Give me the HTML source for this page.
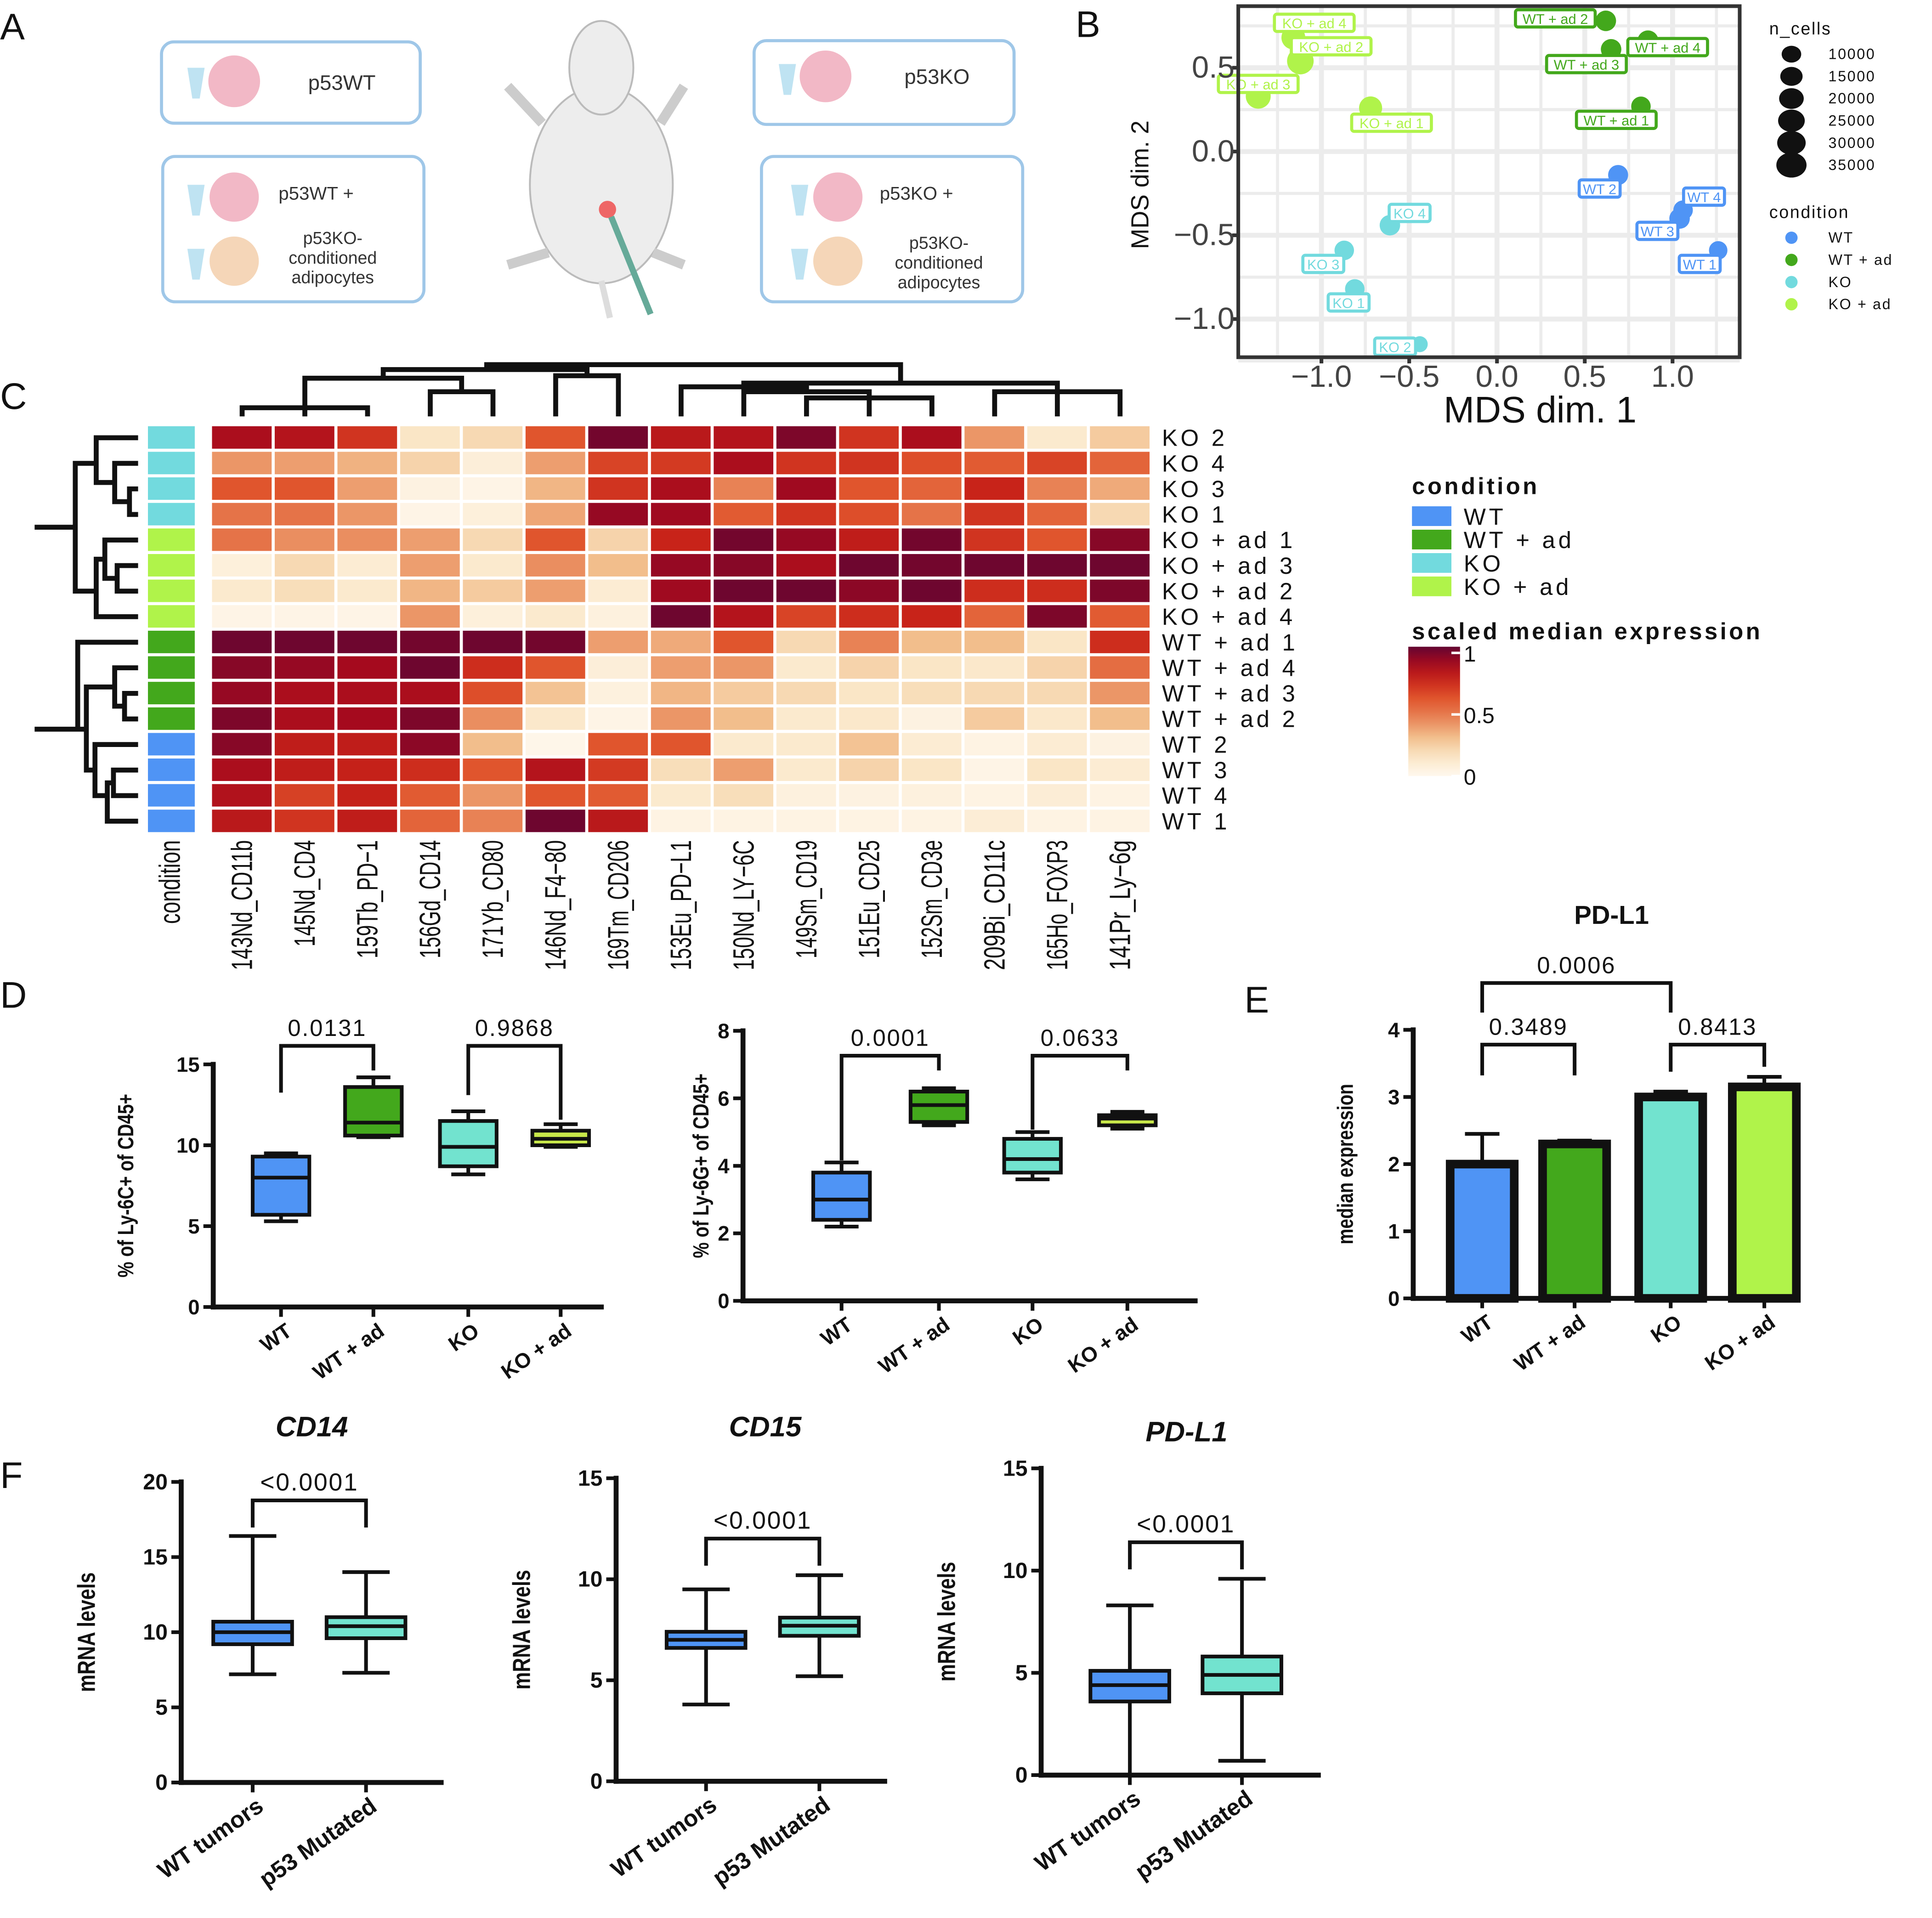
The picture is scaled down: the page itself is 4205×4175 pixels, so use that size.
<!DOCTYPE html>
<html><head><meta charset="utf-8">
<style>
html,body{margin:0;padding:0;background:#fff;}
svg{display:block;font-family:"Liberation Sans",sans-serif;}
</style></head>
<body>
<svg id="fig" width="4205" height="4175" viewBox="0 0 1568 1557" xmlns="http://www.w3.org/2000/svg">
<rect width="1568" height="1557" fill="#fff"/>
<g font-size="30" fill="#111">
<text x="0" y="32">A</text><text x="873" y="30">B</text><text x="0" y="332">C</text>
<text x="0" y="818">D</text><text x="1010" y="822">E</text><text x="0" y="1208">F</text>
</g>
<g font-size="17" fill="#333">
<rect x="131" y="34" width="210" height="66" rx="10" fill="none" stroke="#9fc7e8" stroke-width="2.5"/>
<rect x="612" y="33" width="211" height="68" rx="10" fill="none" stroke="#9fc7e8" stroke-width="2.5"/>
<rect x="132" y="127" width="212" height="118" rx="10" fill="none" stroke="#9fc7e8" stroke-width="2.5"/>
<rect x="618" y="127" width="212" height="118" rx="10" fill="none" stroke="#9fc7e8" stroke-width="2.5"/>
<circle cx="190" cy="66" r="21" fill="#f2b8c6"/><circle cx="670" cy="62" r="21" fill="#f2b8c6"/>
<circle cx="190" cy="160" r="20" fill="#f2b8c6"/><circle cx="190" cy="212" r="20" fill="#f5d6b8"/>
<circle cx="680" cy="160" r="20" fill="#f2b8c6"/><circle cx="680" cy="212" r="20" fill="#f5d6b8"/>
<path d="M152 55 l14 0 l-4 25 l-6 0z M632 52 l14 0 l-4 25 l-6 0z M152 150 l14 0 l-4 25 l-6 0z M152 202 l14 0 l-4 25 l-6 0z M642 150 l14 0 l-4 25 l-6 0z M642 202 l14 0 l-4 25 l-6 0z" fill="#bfe3f2"/>
<text x="250" y="73">p53WT</text><text x="734" y="68">p53KO</text>
<text x="226" y="162" font-size="15">p53WT  +</text>
<text x="270" y="198" font-size="14" text-anchor="middle">p53KO-</text>
<text x="270" y="214" font-size="14" text-anchor="middle">conditioned</text>
<text x="270" y="230" font-size="14" text-anchor="middle">adipocytes</text>
<text x="714" y="162" font-size="15">p53KO  +</text>
<text x="762" y="202" font-size="14" text-anchor="middle">p53KO-</text>
<text x="762" y="218" font-size="14" text-anchor="middle">conditioned</text>
<text x="762" y="234" font-size="14" text-anchor="middle">adipocytes</text>
<g fill="#ededed" stroke="#bbb" stroke-width="1.5">
<ellipse cx="488" cy="150" rx="58" ry="80"/>
<ellipse cx="488" cy="55" rx="26" ry="38"/>
<path d="M440 100 L412 70 M536 100 L555 70 M445 205 L412 215 M530 205 L555 215" stroke="#ccc" stroke-width="8"/>
<path d="M488 228 L495 258" stroke="#ddd" stroke-width="5"/>
<circle cx="493" cy="170" r="7" fill="#e66" stroke="none"/>
<path d="M496 176 L528 255" stroke="#6a9" stroke-width="5"/>
</g>
</g>
<g id="mds"></g>
<g id="heat"></g>
<g id="boxes"></g>
</svg>
<script>
const NS="http://www.w3.org/2000/svg";
function mk(parent,tag,attrs,text){const e=document.createElementNS(NS,tag);for(const k in attrs)e.setAttribute(k,attrs[k]);if(text!==undefined)e.textContent=text;parent.appendChild(e);return e;}
const COND_COLORS={"WT":"#4f94f5","WT + ad":"#43a81c","KO":"#72dade","KO + ad":"#b0f34a"};

/* ---------- Panel B: MDS ---------- */
const mdsLabels=["KO + ad 4","KO + ad 2","KO + ad 3","KO + ad 1","WT + ad 2","WT + ad 4","WT + ad 3","WT + ad 1","WT 2","WT 4","WT 3","WT 1","KO 4","KO 3","KO 1","KO 2"];
const mdsCond=["KO + ad","KO + ad","KO + ad","KO + ad","WT + ad","WT + ad","WT + ad","WT + ad","WT","WT","WT","WT","KO","KO","KO","KO"];
const mdsX=[-1.16,-1.12,-1.36,-0.72,0.62,0.86,0.65,0.82,0.69,1.06,1.04,1.26,-0.61,-0.87,-0.81,-0.44];
const mdsY=[0.68,0.54,0.33,0.26,0.78,0.66,0.61,0.27,-0.14,-0.35,-0.40,-0.59,-0.44,-0.59,-0.82,-1.15];
const mdsCells=[22000,30000,25000,20000,14000,15000,14000,12000,13000,12000,14000,10000,14000,12000,12000,6000];
const mdsXTicks=[-1.0,-0.5,0.0,0.5,1.0];
const mdsYTicks=[0.5,0.0,-0.5,-1.0];
(function(){
 const g=document.getElementById('mds');
 const L=1005,R=1412,T=5,B=290;
 const sx=v=>1215+v*142.5, sy=v=>123-v*136;
 for(let v=-1.25;v<=1.3;v+=0.25){const x=sx(v);const l=mk(g,'line',{x1:x,x2:x,y1:T,y2:B,stroke:'#ececec','stroke-width':Math.abs((v*2)%1)<1e-6?4:2.5});}
 for(let v=-1.25;v<=0.8;v+=0.25){const y=sy(v);const l=mk(g,'line',{x1:L,x2:R,y1:y,y2:y,stroke:'#ececec','stroke-width':Math.abs((v*2)%1)<1e-6?4:2.5});}
 const ldx=[17,25,0,17,-41,16,-20,-20,-15,17,-18,-15,16,-17,-5,-20];
 const ldy=[-12,-12,-10,12,-2,5,12,11,11,-11,10,11,-10,11,11,2];
 mdsX.forEach((xv,i)=>{
  const c=COND_COLORS[mdsCond[i]];const x=sx(xv),y=sy(mdsY[i]);
  const r=3+Math.sqrt(mdsCells[i])*0.045;
  const p=mk(g,'circle',{cx:x,cy:y,r:r,fill:c});
  
  const lx=x+ldx[i],ly=y+ldy[i];const w=mdsLabels[i].length*6.3+8;
  const b=mk(g,'rect',{x:lx-w/2,y:ly-7,width:w,height:14,rx:2,fill:'#fff',stroke:c,'stroke-width':2.5});
  
  const t=mk(g,'text',{x:lx,y:ly+4.5,'font-size':11.5,fill:c,'text-anchor':'middle'},mdsLabels[i]);
  
 });
 mk(g,'rect',{x:L,y:T,width:R-L,height:B-T,fill:'none',stroke:'#333','stroke-width':3});
 mdsXTicks.forEach(v=>{mk(g,'line',{x1:sx(v),x2:sx(v),y1:B,y2:B+5,stroke:'#333','stroke-width':3});
  const t=mk(g,'text',{x:sx(v),y:B+24,'font-size':25,fill:'#444','text-anchor':'middle'},v.toFixed(1).replace('-','\u2212'));});
 mdsYTicks.forEach(v=>{mk(g,'line',{x1:L-5,x2:L,y1:sy(v),y2:sy(v),stroke:'#333','stroke-width':3});
  const t=mk(g,'text',{x:L-3,y:sy(v)+8,'font-size':25,fill:'#444','text-anchor':'end'},v.toFixed(1).replace('-','\u2212'));});
 let t=mk(g,'text',{x:1250,y:343,'font-size':30,fill:'#111','text-anchor':'middle'},'MDS dim. 1');
 t=mk(g,'text',{x:0,y:0,'font-size':20,fill:'#111','text-anchor':'middle',transform:'translate(932,150) rotate(-90)'},'MDS dim. 2');
 t=mk(g,'text',{x:1436,y:28,'font-size':14,fill:'#111','letter-spacing':'1'},'n_cells');
 const sizes=[10000,15000,20000,25000,30000,35000];
 sizes.forEach((s,i)=>{const y=44+i*18;mk(g,'ellipse',{cx:1454,cy:y,rx:3+Math.sqrt(s)*0.045*1.1,ry:3+Math.sqrt(s)*0.045*0.85,fill:'#111'});
  const tt=mk(g,'text',{x:1484,y:y+4,'font-size':12,fill:'#111','letter-spacing':'1'},String(s));});
 t=mk(g,'text',{x:1436,y:177,'font-size':14,fill:'#111','letter-spacing':'1'},'condition');
 Object.keys(COND_COLORS).forEach((k,i)=>{const y=193+i*18;mk(g,'circle',{cx:1454,cy:y,r:5,fill:COND_COLORS[k]});
  const tt=mk(g,'text',{x:1484,y:y+4,'font-size':12,fill:'#111','letter-spacing':'1'},k);});
})();

/* ---------- Panel C: heatmap ---------- */
const hmRows=["KO 2","KO 4","KO 3","KO 1","KO + ad 1","KO + ad 3","KO + ad 2","KO + ad 4","WT + ad 1","WT + ad 4","WT + ad 3","WT + ad 2","WT 2","WT 3","WT 4","WT 1"];
const hmRowCond=["KO","KO","KO","KO","KO + ad","KO + ad","KO + ad","KO + ad","WT + ad","WT + ad","WT + ad","WT + ad","WT","WT","WT","WT"];
const hmCols=["143Nd_CD11b","145Nd_CD4","159Tb_PD-1","156Gd_CD14","171Yb_CD80","146Nd_F4-80","169Tm_CD206","153Eu_PD-L1","150Nd_LY-6C","149Sm_CD19","151Eu_CD25","152Sm_CD3e","209Bi_CD11c","165Ho_FOXP3","141Pr_Ly-6g"];
const hmValues=[
[.85,.82,.7,.15,.2,.6,.97,.8,.82,.95,.7,.85,.4,.12,.25],
[.4,.38,.33,.22,.08,.38,.65,.68,.85,.7,.7,.62,.58,.65,.55],
[.6,.6,.38,.05,.03,.32,.7,.85,.45,.88,.6,.55,.75,.45,.35],
[.5,.5,.4,.03,.07,.36,.9,.88,.58,.7,.62,.5,.7,.55,.2],
[.5,.42,.42,.38,.2,.6,.22,.75,.97,.9,.78,.97,.7,.6,.93],
[.07,.2,.1,.38,.12,.42,.3,.9,.93,.85,.98,.97,.98,.98,.98],
[.12,.18,.12,.32,.25,.38,.1,.88,.98,.98,.92,.98,.72,.72,.95],
[.03,.03,.03,.4,.07,.12,.06,.98,.82,.65,.72,.75,.55,.95,.58],
[.98,.98,.98,.97,.98,.97,.38,.35,.6,.2,.45,.3,.3,.15,.72],
[.93,.9,.87,.98,.72,.6,.08,.38,.4,.12,.22,.15,.13,.22,.52],
[.9,.85,.85,.85,.62,.28,.06,.32,.25,.2,.15,.18,.2,.2,.4],
[.95,.85,.87,.95,.42,.13,.03,.4,.3,.12,.13,.05,.25,.13,.3],
[.93,.78,.78,.92,.3,.02,.6,.6,.12,.12,.28,.1,.04,.1,.05],
[.85,.78,.76,.72,.6,.82,.68,.18,.38,.12,.22,.15,.03,.15,.1],
[.83,.66,.76,.58,.4,.6,.58,.12,.18,.06,.05,.06,.04,.09,.04],
[.8,.7,.78,.55,.45,.98,.8,.04,.04,.04,.04,.04,.09,.04,.04]];
const hmScaleTicks=[1,0.5,0];
function heatColor(v){
 const stops=[[0,[255,248,238]],[0.15,[250,230,198]],[0.3,[242,190,140]],[0.45,[232,130,85]],[0.6,[224,85,45]],[0.75,[200,35,25]],[0.87,[165,10,30]],[1,[100,5,50]]];
 for(let i=1;i<stops.length;i++){if(v<=stops[i][0]){const a=stops[i-1],b=stops[i];const t=(v-a[0])/(b[0]-a[0]);return 'rgb('+a[1].map((c,j)=>Math.round(c+(b[1][j]-c)*t)).join(',')+')';}}
 return 'rgb(100,5,50)';
}
(function(){
 const g=document.getElementById('heat');
 const x0=171,y0=345,cw=50.9,ch=20.75;
 hmRows.forEach((r,i)=>{
  const y=y0+i*ch;
  const c=mk(g,'rect',{x:120,y:y+1,width:38,height:ch-2.5,fill:COND_COLORS[hmRowCond[i]]});
  
  hmValues[i].forEach((v,j)=>{
   const cell=mk(g,'rect',{x:x0+j*cw+1,y:y+1,width:cw-2.5,height:ch-2.5,fill:heatColor(v)});
   
  });
  const t=mk(g,'text',{x:943,y:y+17,'font-size':19,fill:'#111','letter-spacing':'2.5'},r.replace(/ /g,'\u00a0'));
  
 });
 const colNames=["condition"].concat(hmCols);
 colNames.forEach((n,j)=>{
  const cx=j===0?139+7:x0+(j-1)*cw+cw/2+8;
  const len=n==="condition"?68:n.length*9.6;
  const t=mk(g,'text',{x:0,y:0,'font-size':24,fill:'#111','text-anchor':'end',textLength:len,lengthAdjust:'spacingAndGlyphs',transform:'translate('+cx+',682) rotate(-90)'},n.replace(/-/g,'\u2212'));
  
 });
 const P='stroke:#111;stroke-width:4;fill:none';
 const cc=j=>x0+j*cw+cw/2;
 const seg=[];
 function U(xa,xb,ya,yb,yt){seg.push(`M${xa} ${ya} V${yt} H${xb} V${yb}`);}
 U(cc(0),cc(2),338,338,331);U(cc(1),cc(1),338,338,331);
 U(cc(3),cc(4),338,338,318);U(cc(1),cc(3.5),331,318,307);
 U(cc(5),cc(6),338,338,305);U(cc(2.25),cc(5.5),307,305,300);
 U(cc(9),cc(11),338,338,323);U(cc(10),cc(10),338,338,322);U(cc(8),cc(10),338,323,318);
 U(cc(7),cc(9),338,318,314);U(cc(12),cc(14),338,338,318);U(cc(13),cc(13),338,338,318);
 U(cc(8),cc(13),314,318,311);U(cc(3.9),cc(10.5),300,311,296);
 const cd=mk(g,'path',{d:seg.join(' '),style:P});
 const rc=i=>y0+i*ch+ch/2; const seg2=[];
 function Lf(ya,yb,xa,xb,xt){seg2.push(`M${xa} ${ya} H${xt} V${yb} H${xb}`);}
 Lf(rc(2),rc(3),112,112,105);Lf(rc(1),(rc(2)+rc(3))/2,112,105,93);Lf(rc(0),(rc(1)+rc(2.5))/2,112,93,78);
 Lf(rc(5),rc(6),112,112,95);Lf(rc(4),rc(5.5),112,95,85);Lf(rc(4.75),rc(7),85,112,78);
 Lf((rc(0)+rc(2))/2,rc(6),78,78,61);seg2.push(`M28 ${rc(3.5)} H61`);
 Lf(rc(10),rc(11),112,112,101);Lf(rc(9),rc(10.5),112,101,93);Lf(rc(13),rc(14),112,112,92);
 Lf(rc(13.5),rc(15),92,112,87);Lf(rc(12),rc(14),112,87,77);Lf(rc(9.75),rc(13),93,77,70);
 Lf(rc(8),rc(11.4),112,70,63);seg2.push(`M28 ${rc(11.4)} H63`);
 const rd=mk(g,'path',{d:seg2.join(' '),style:P});
 let t=mk(g,'text',{x:1146,y:401,'font-size':19,'font-weight':'bold',fill:'#111','letter-spacing':'2'},'condition');
 Object.keys(COND_COLORS).forEach((k,i)=>{const y=411+i*19;mk(g,'rect',{x:1146,y:y,width:32,height:16,fill:COND_COLORS[k]});
  const tt=mk(g,'text',{x:1188,y:y+15,'font-size':19,fill:'#111','letter-spacing':'2.5'},k.replace(/ /g,'\u00a0'));});
 t=mk(g,'text',{x:1146,y:519,'font-size':19,'font-weight':'bold',fill:'#111','letter-spacing':'2'},'scaled median expression');
 const defs=mk(g,'defs',{});const lg=mk(defs,'linearGradient',{id:'cb',x1:0,y1:1,x2:0,y2:0});
 for(let k=0;k<=10;k++)mk(lg,'stop',{offset:k/10,'stop-color':heatColor(k/10)});
 const cb=mk(g,'rect',{x:1143,y:525,width:42,height:105,fill:'url(#cb)'});
 hmScaleTicks.forEach(v=>{const y=630-v*100;mk(g,'line',{x1:1178,x2:1185,y1:y,y2:y,stroke:'#fff','stroke-width':2});
  const tt=mk(g,'text',{x:1188,y:y+7,'font-size':18,fill:'#111'},String(v));});
})();

/* ---------- Panels D/E/F ---------- */
const ly6cGroups=["WT","WT + ad","KO","KO + ad"];
const ly6cWhiskerLow=[5.3,10.5,8.2,9.9];const ly6cQ1=[5.7,10.6,8.7,10.0];const ly6cMedian=[8.0,11.4,9.9,10.4];const ly6cQ3=[9.3,13.6,11.5,10.9];const ly6cWhiskerHigh=[9.5,14.2,12.1,11.3];
const ly6cTicks=[0,5,10,15];
const ly6gWhiskerLow=[2.2,5.2,3.6,5.1];const ly6gQ1=[2.4,5.3,3.8,5.2];const ly6gMedian=[3.0,5.8,4.2,5.4];const ly6gQ3=[3.8,6.2,4.8,5.5];const ly6gWhiskerHigh=[4.1,6.3,5.0,5.6];
const ly6gTicks=[0,2,4,6,8];
const pdl1Groups=["WT","WT + ad","KO","KO + ad"];const pdl1Means=[2.0,2.3,3.0,3.15];const pdl1Err=[2.45,2.35,3.08,3.3];const pdl1Ticks=[0,1,2,3,4];
const mrnaGroups=["WT tumors","p53 Mutated"];
const cd14Low=[7.2,7.3],cd14Q1=[9.2,9.6],cd14Med=[10.0,10.4],cd14Q3=[10.7,11.0],cd14High=[16.4,14.0],cd14Ticks=[0,5,10,15,20];
const cd15Low=[3.8,5.2],cd15Q1=[6.6,7.2],cd15Med=[7.0,7.7],cd15Q3=[7.4,8.1],cd15High=[9.5,10.2],cd15Ticks=[0,5,10,15];
const pdl1mLow=[0,0.7],pdl1mQ1=[3.6,4.0],pdl1mMed=[4.4,4.9],pdl1mQ3=[5.1,5.8],pdl1mHigh=[8.3,9.6],pdl1mTicks=[0,5,10,15];
(function(){
 const g=document.getElementById('boxes');
 const K='#111';
 function axes(o){
  const sy=v=>o.base-v*o.ppu;
  mk(g,'line',{x1:o.ax,x2:o.ax,y1:sy(o.ticks[o.ticks.length-1])-2,y2:o.base+2,stroke:K,'stroke-width':4});
  mk(g,'line',{x1:o.ax-2,x2:o.xend,y1:o.base,y2:o.base,stroke:K,'stroke-width':4});
  o.ticks.forEach(v=>{mk(g,'line',{x1:o.ax-8,x2:o.ax,y1:sy(v),y2:sy(v),stroke:K,'stroke-width':3});
   const t=mk(g,'text',{x:o.ax-11,y:sy(v)+6,'font-size':o.tfs||17,'font-weight':'bold',fill:K,'text-anchor':'end'},String(v));});
  o.centers.forEach((c,i)=>{mk(g,'line',{x1:c,x2:c,y1:o.base,y2:o.base+8,stroke:K,'stroke-width':3});
   const t=mk(g,'text',{x:0,y:0,'font-size':o.xfs||17,'font-weight':'bold',fill:K,'text-anchor':'end',transform:`translate(${c+10},${o.base+22}) rotate(-35)`},o.groups[i]);});
  const t=mk(g,'text',{x:0,y:0,'font-size':o.yfs||18,'font-weight':'bold',fill:K,'text-anchor':'middle',transform:`translate(${o.ytx},${(o.base+sy(o.ticks[o.ticks.length-1]))/2}) rotate(-90) scale(0.8,1)`},o.ytitle);
  return sy;
 }
 function boxes(o,sy,lo,q1,md,q3,hi,colors,w){
  o.centers.forEach((c,i)=>{
   mk(g,'line',{x1:c,x2:c,y1:sy(lo[i]),y2:sy(hi[i]),stroke:K,'stroke-width':3});
   mk(g,'line',{x1:c-w*0.3,x2:c+w*0.3,y1:sy(lo[i]),y2:sy(lo[i]),stroke:K,'stroke-width':3});
   mk(g,'line',{x1:c-w*0.3,x2:c+w*0.3,y1:sy(hi[i]),y2:sy(hi[i]),stroke:K,'stroke-width':3});
   const b=mk(g,'rect',{x:c-w/2,y:sy(q3[i]),width:w,height:sy(q1[i])-sy(q3[i]),fill:colors[i],stroke:K,'stroke-width':3});
   
   mk(g,'line',{x1:c-w/2,x2:c+w/2,y1:sy(md[i]),y2:sy(md[i]),stroke:K,'stroke-width':3});
  });
 }
 function bracket(x1,x2,y,drop1,drop2,label,fs){
  mk(g,'path',{d:`M${x1} ${y+drop1} V${y} H${x2} V${y+drop2}`,fill:'none',stroke:K,'stroke-width':3});
  const t=mk(g,'text',{x:(x1+x2)/2,y:y-8,'font-size':fs||19,fill:K,'text-anchor':'middle','letter-spacing':'1'},label);
 }
 const C4=['#4f94f5','#43a81c','#72e3cf','#b0f34a'];
 let o={ax:173,base:1061,ppu:13.13,ticks:ly6cTicks,xend:490,centers:[228,303,380,455],groups:ly6cGroups,ytx:108,ytitle:'% of Ly-6C+ of CD45+'};
 let sy=axes(o);boxes(o,sy,ly6cWhiskerLow,ly6cQ1,ly6cMedian,ly6cQ3,ly6cWhiskerHigh,['#4f94f5','#43a81c','#72e3cf','#c8e84a'],46);
 bracket(228,303,849,38,20,'0.0131');bracket(380,455,849,40,60,'0.9868');
 o={ax:603,base:1056,ppu:27.4,ticks:ly6gTicks,xend:972,centers:[683,762,838,915],groups:ly6cGroups,ytx:575,ytitle:'% of Ly-6G+ of CD45+'};
 sy=axes(o);boxes(o,sy,ly6gWhiskerLow,ly6gQ1,ly6gMedian,ly6gQ3,ly6gWhiskerHigh,['#4f94f5','#43a81c','#72e3cf','#c8e84a'],46);
 bracket(683,762,857,85,12,'0.0001');bracket(838,915,857,60,12,'0.0633');
 o={ax:1147,base:1054,ppu:54.5,ticks:pdl1Ticks,xend:1460,centers:[1203,1278,1356,1432],groups:pdl1Groups,ytx:1098,ytitle:'median expression'};
 sy=axes(o);
 o.centers.forEach((c,i)=>{
  mk(g,'line',{x1:c,x2:c,y1:sy(pdl1Means[i]),y2:sy(pdl1Err[i]),stroke:K,'stroke-width':3});
  mk(g,'line',{x1:c-14,x2:c+14,y1:sy(pdl1Err[i]),y2:sy(pdl1Err[i]),stroke:K,'stroke-width':3});
  const b=mk(g,'rect',{x:c-26,y:sy(pdl1Means[i]),width:52,height:o.base-sy(pdl1Means[i]),fill:C4[i],stroke:K,'stroke-width':7});
  
 });
 bracket(1203,1278,848,25,25,'0.3489');bracket(1356,1432,848,22,18,'0.8413');bracket(1203,1356,798,24,24,'0.0006');
 let t=mk(g,'text',{x:1308,y:750,'font-size':21,'font-weight':'bold',fill:K,'text-anchor':'middle'},'PD-L1');
 const CF=['#4f94f5','#72e3cf'];
 function mplot(ax,base,ppu,ticks,xend,centers,lo,q1,md,q3,hi,title,tx,ty,by){
  const oo={ax:ax,base:base,ppu:ppu,ticks:ticks,xend:xend,centers:centers,groups:mrnaGroups,ytx:ax-70,ytitle:'mRNA levels',tfs:18,xfs:19,yfs:20};
  const s=axes(oo);boxes(oo,s,lo,q1,md,q3,hi,CF,64);
  bracket(centers[0],centers[1],by,22,22,'<0.0001',20);
  const tt=mk(g,'text',{x:tx,y:ty,'font-size':23,'font-weight':'bold','font-style':'italic',fill:K,'text-anchor':'middle'},title);
 }
 mplot(147,1447,12.2,cd14Ticks,360,[205,297],cd14Low,cd14Q1,cd14Med,cd14Q3,cd14High,'CD14',253,1166,1218);
 mplot(500,1446,16.4,cd15Ticks,720,[573,665],cd15Low,cd15Q1,cd15Med,cd15Q3,cd15High,'CD15',621,1166,1249);
 mplot(845,1441,16.6,pdl1mTicks,1072,[917,1008],pdl1mLow,pdl1mQ1,pdl1mMed,pdl1mQ3,pdl1mHigh,'PD-L1',963,1170,1252);
})();
</script>
</body></html>
